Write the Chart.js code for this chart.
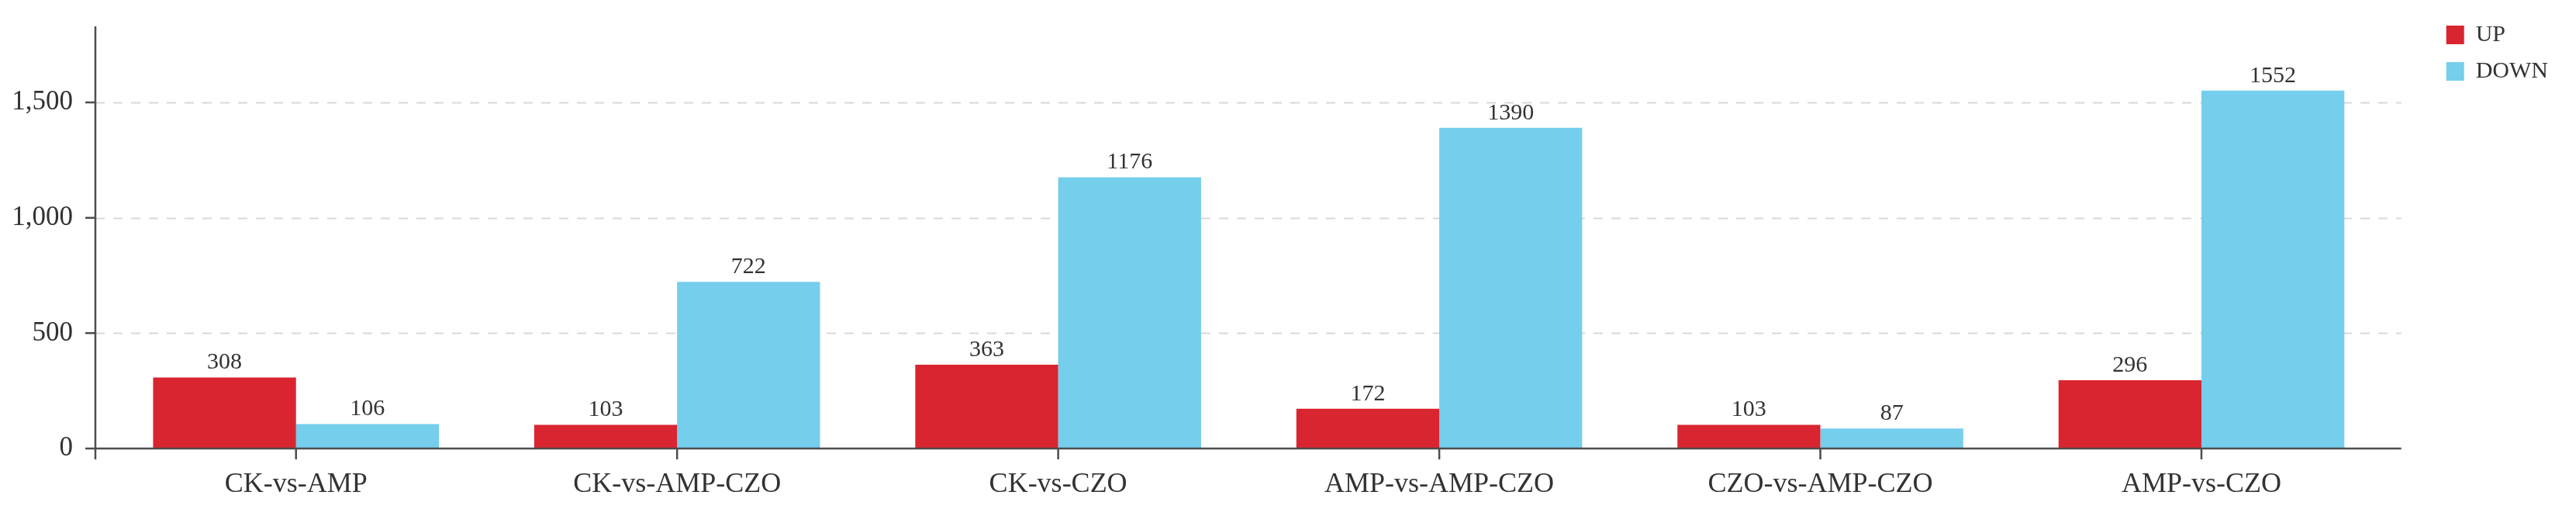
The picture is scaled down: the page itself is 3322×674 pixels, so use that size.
<!DOCTYPE html>
<html>
<head>
<meta charset="utf-8">
<script src="https://cdn.jsdelivr.net/npm/chart.js@4.4.1/dist/chart.umd.min.js"></script>
<style>
  body { margin: 0; background: #fff; }
  #grafico { display: block; }
</style>
</head>
<body>
<canvas id="grafico" width="3322" height="674"></canvas>
<script>
// dati del grafico
var categorie = ['CK-vs-AMP', 'CK-vs-AMP-CZO', 'CK-vs-CZO', 'AMP-vs-AMP-CZO', 'CZO-vs-AMP-CZO', 'AMP-vs-CZO'];
var valoriUp = [308, 103, 363, 172, 103, 296];
var valoriDown = [106, 722, 1176, 1390, 87, 1552];
var nomiSerie = ['UP', 'DOWN'];
var tickY = [0, 500, 1000, 1500];
var asseMax = 1830;

var carattere = "'Liberation Serif', 'Times New Roman', serif";
var coloreTesto = '#333333';
var coloreAsse = '#4d4d4d';

// assi, griglia tratteggiata ed etichette sulle barre
var pluginAssi = {
  id: 'assi',
  afterLayout: function(chart) {
    // la banda delle categorie e' un po' piu' stretta dell'asse
    var area = chart.chartArea;
    var x = chart.scales.x;
    x.left = area.left + 13;
    x.right = area.right - 53;
    x.width = x.right - x.left;
    x.configure();
  },
  beforeDatasetsDraw: function(chart) {
    var ctx = chart.ctx;
    var area = chart.chartArea;
    var y = chart.scales.y;
    var fine = area.right - 41;
    ctx.save();
    ctx.strokeStyle = '#d9d9d9';
    ctx.lineWidth = 2;
    ctx.setLineDash([12, 11]);
    y.ticks.forEach(function(t) {
      if (t.value === 0) return;
      var py = Math.round(y.getPixelForValue(t.value)) + 0.5;
      ctx.beginPath();
      ctx.moveTo(area.left, py);
      ctx.lineTo(fine, py);
      ctx.stroke();
    });
    ctx.restore();
  },
  afterDatasetsDraw: function(chart) {
    var ctx = chart.ctx;
    var area = chart.chartArea;
    var x = chart.scales.x;
    var y = chart.scales.y;
    var fine = area.right - 41;
    var base = y.getPixelForValue(0);

    ctx.save();
    ctx.strokeStyle = coloreAsse;
    ctx.lineWidth = 2.5;
    ctx.beginPath();
    // asse y
    ctx.moveTo(area.left, y.getPixelForValue(asseMax));
    ctx.lineTo(area.left, base + 14);
    // asse x
    ctx.moveTo(area.left, base);
    ctx.lineTo(fine, base);
    // tacche y
    y.ticks.forEach(function(t) {
      var py = y.getPixelForValue(t.value);
      ctx.moveTo(area.left - 13, py);
      ctx.lineTo(area.left, py);
    });
    // tacche x
    categorie.forEach(function(c, i) {
      var px = x.getPixelForTick(i);
      ctx.moveTo(px, base);
      ctx.lineTo(px, base + 14);
    });
    ctx.stroke();

    // valori sopra le barre
    ctx.fillStyle = coloreTesto;
    ctx.font = '30px ' + carattere;
    ctx.textAlign = 'center';
    ctx.textBaseline = 'alphabetic';
    chart.data.datasets.forEach(function(ds, d) {
      var meta = chart.getDatasetMeta(d);
      meta.data.forEach(function(bar, i) {
        ctx.fillText(String(ds.data[i]), bar.x, bar.y - 11);
      });
    });
    ctx.restore();
  }
};

function stampaGrafico() {
  var ctx = document.getElementById('grafico');
  var chart = new Chart(ctx, {
    type: 'bar',
    data: {
      labels: categorie,
      datasets: [{
        label: nomiSerie[0],
        data: valoriUp,
        backgroundColor: '#d92530',
        borderWidth: 0
      }, {
        label: nomiSerie[1],
        data: valoriDown,
        backgroundColor: '#75ceec',
        borderWidth: 0
      }]
    },
    options: {
      responsive: false,
      animation: false,
      devicePixelRatio: 1,
      layout: { padding: { top: 13, right: 26, bottom: 0, left: 0 } },
      datasets: {
        bar: { categoryPercentage: 0.75, barPercentage: 1 }
      },
      plugins: {
        tooltip: { enabled: false },
        legend: {
          position: 'right',
          align: 'start',
          labels: {
            boxWidth: 23,
            boxHeight: 24,
            padding: 17,
            color: coloreTesto,
            font: { family: carattere, size: 30 }
          }
        }
      },
      scales: {
        x: {
          offset: true,
          grid: { display: false },
          border: { display: false },
          ticks: {
            color: coloreTesto,
            padding: 17,
            maxRotation: 0,
            autoSkip: false,
            font: { family: carattere, size: 36 }
          },
          afterFit: function(scale) {
            scale.height = 96;
            scale.paddingLeft = 0;
            scale.paddingRight = 0;
          }
        },
        y: {
          min: 0,
          max: asseMax,
          grid: { display: false },
          border: { display: false },
          ticks: {
            color: coloreTesto,
            padding: 21,
            font: { family: carattere, size: 35 },
            callback: function(v) { return v.toLocaleString('en-US'); }
          },
          afterBuildTicks: function(scale) {
            scale.ticks = tickY.map(function(v) { return { value: v }; });
          },
          afterFit: function(scale) {
            scale.width = 123;
            scale.paddingTop = 34;
            scale.paddingBottom = 0;
          }
        }
      }
    },
    plugins: [pluginAssi]
  });
}

stampaGrafico();
</script>
</body>
</html>
